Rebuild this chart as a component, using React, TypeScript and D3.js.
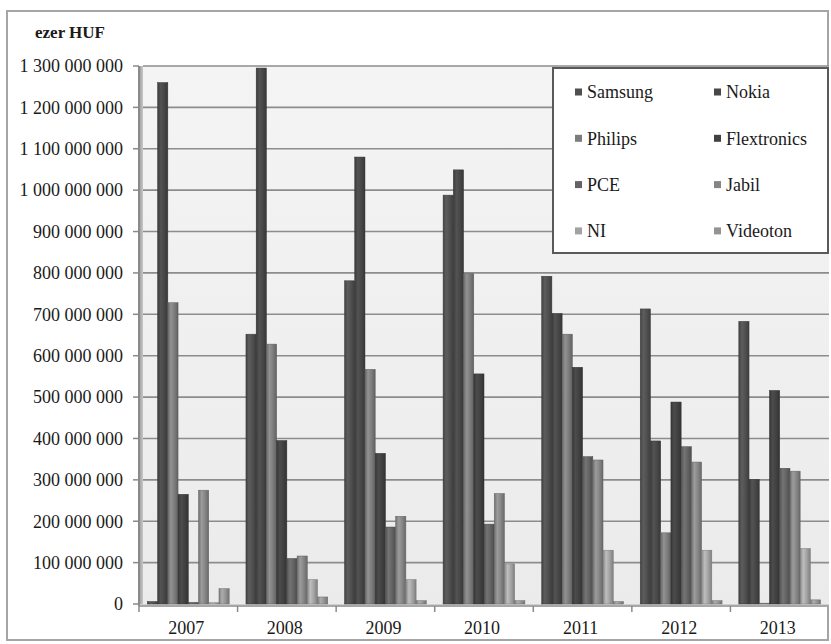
import * as d3 from 'd3'

const years = ['2007', '2008', '2009', '2010', '2011', '2012', '2013']
const seriesNames = ['Samsung', 'Nokia', 'Philips', 'Flextronics', 'PCE', 'Jabil', 'NI', 'Videoton']

// values in million HUF (ezer HUF axis is shown in full)
const samsung = [6, 652, 781, 988, 792, 713, 683]
const nokia = [1260, 1295, 1080, 1049, 702, 394, 301]
const philips = [728, 628, 567, 798, 652, 172, 2]
const flextronics = [265, 395, 364, 556, 572, 488, 516]
const pce = [4, 110, 186, 193, 356, 380, 328]
const jabil = [275, 116, 212, 267, 348, 343, 321]
const ni = [3, 59, 59, 97, 130, 130, 134]
const videoton = [37, 17, 8, 8, 6, 8, 10]

const seriesValues = [samsung, nokia, philips, flextronics, pce, jabil, ni, videoton]
const seriesColors = ['#4f4f4f', '#474747', '#7c7c7c', '#414141', '#636363', '#858585', '#a2a2a2', '#939393']

const yTicks = d3.range(0, 1300000001, 100000000)

const W = 831
const H = 644
const plot = { left: 139, right: 829, top: 66, bottom: 604 }
const font = 'Liberation Serif, DejaVu Serif, serif'

export default function App() {
  const y = d3.scaleLinear().domain([0, 1300000000]).range([plot.bottom, plot.top])
  const x0 = d3.scaleBand<string>()
    .domain(years)
    .range([plot.left, plot.right])
    .paddingInner(0.17)
    .paddingOuter(0.085)
  const step = x0.step()
  const x1 = d3.scaleBand<string>().domain(seriesNames).range([0, x0.bandwidth()])
  const fmt = (v: number) => d3.format(',')(v).replace(/,/g, ' ')
  const boundary = (yr: string) => (x0(yr) as number) - step * 0.085

  return (
    <svg width={W} height={H} style={{ display: 'block', position: 'absolute', left: 0, top: 0, fontFamily: font }}>
      <defs>
        <linearGradient id="plotBg" x1="0" y1="0" x2="0" y2="1">
          <stop offset="0" stopColor="#f4f4f4" />
          <stop offset="1" stopColor="#ebebeb" />
        </linearGradient>
        <linearGradient id="wall" x1="0" y1="0" x2="1" y2="0">
          <stop offset="0" stopColor="#9a9a9a" />
          <stop offset="1" stopColor="#c8c8c8" />
        </linearGradient>
        {seriesColors.map((c, i) => {
          const col = d3.color(c) as d3.RGBColor
          return (
            <linearGradient key={i} id={`bar${i}`} x1="0" y1="0" x2="1" y2="0">
              <stop offset="0" stopColor={col.darker(0.5).formatHex()} />
              <stop offset="0.3" stopColor={col.brighter(0.45).formatHex()} />
              <stop offset="0.65" stopColor={c} />
              <stop offset="1" stopColor={col.darker(0.7).formatHex()} />
            </linearGradient>
          )
        })}
      </defs>

      <rect x={0} y={0} width={W} height={H} fill="#fff" />
      {/* outer chart frame */}
      <rect x={7} y={11} width={821} height={629} fill="#fff" stroke="#a5a5a5" strokeWidth={2} />

      {/* plot area */}
      <rect x={plot.left + 4} y={plot.top} width={plot.right - plot.left - 4} height={plot.bottom - plot.top} fill="url(#plotBg)" />
      <rect x={plot.left} y={plot.top} width={4} height={plot.bottom - plot.top + 2} fill="url(#wall)" />
      <rect x={plot.left} y={plot.bottom} width={plot.right - plot.left} height={3} fill="#d0d0d0" />

      {/* grid lines */}
      {yTicks.filter(t => t > 0).map(t => (
        <line key={t} x1={plot.left + 4} x2={plot.right} y1={y(t)} y2={y(t)} stroke="#8c8c8c" strokeWidth={1.6} />
      ))}

      {/* bars */}
      {years.map((yr, yi) => (
        <g key={yr} transform={`translate(${x0(yr)},0)`}>
          {seriesNames.map((s, si) => {
            const v = seriesValues[si][yi] * 1000000
            return (
              <rect
                key={s}
                x={x1(s) as number}
                y={y(v)}
                width={x1.bandwidth()}
                height={plot.bottom - y(v)}
                fill={`url(#bar${si})`}
                stroke={d3.color(seriesColors[si])!.darker(0.8).formatHex()}
                strokeWidth={0.5}
              />
            )
          })}
        </g>
      ))}

      {/* axes */}
      <line x1={plot.left} x2={plot.left} y1={plot.top} y2={plot.bottom + 2} stroke="#8a8a8a" strokeWidth={2} />
      <line x1={plot.left} x2={plot.right} y1={plot.bottom + 2} y2={plot.bottom + 2} stroke="#9a9a9a" strokeWidth={1.5} />
      {yTicks.map(t => (
        <g key={t}>
          <line x1={plot.left - 6} x2={plot.left} y1={y(t)} y2={y(t)} stroke="#8a8a8a" strokeWidth={1.5} />
          <text x={123} y={y(t)} dy="0.35em" textAnchor="end" fontFamily={font} fontSize={18} fill="#1a1a1a">
            {fmt(t)}
          </text>
        </g>
      ))}
      {years.map(yr => (
        <g key={yr}>
          <line x1={boundary(yr)} x2={boundary(yr)} y1={plot.bottom + 2} y2={plot.bottom + 8} stroke="#8a8a8a" strokeWidth={1.5} />
          <text x={(x0(yr) as number) + x0.bandwidth() / 2 - 2} y={634} textAnchor="middle" fontFamily={font} fontSize={18} fill="#1a1a1a">
            {yr}
          </text>
        </g>
      ))}

      <text x={35} y={38} fontFamily={font} fontSize={17} fontWeight="bold" fill="#1a1a1a">ezer HUF</text>

      {/* legend */}
      <rect x={553} y={68} width={275} height={185} fill="#fff" stroke="#5a5a5a" strokeWidth={2} />
      {seriesNames.map((s, i) => {
        const col = i % 2
        const row = Math.floor(i / 2)
        const lx = col === 0 ? 575 : 714
        const ly = 92 + row * 46.3
        return (
          <g key={s}>
            <rect x={lx} y={ly - 3.5} width={7} height={7} fill={seriesColors[i]} />
            <text x={lx + 12} y={ly} dy="0.35em" fontFamily={font} fontSize={18} fill="#1a1a1a">{s}</text>
          </g>
        )
      })}
    </svg>
  )
}
